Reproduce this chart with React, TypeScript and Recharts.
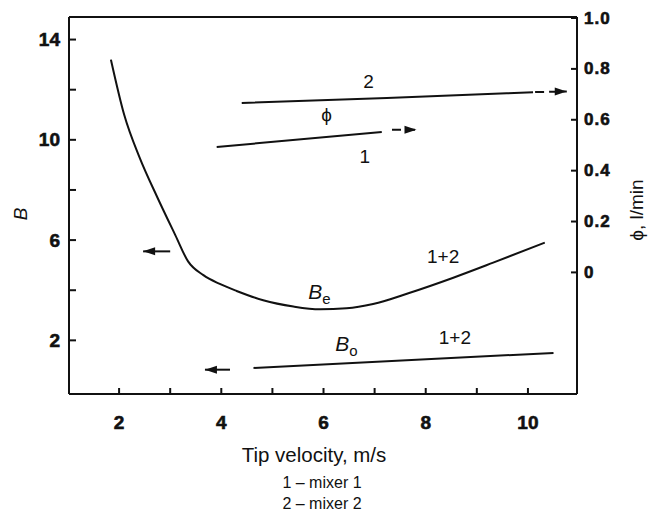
import React from 'react';
import { ComposedChart, Line, XAxis, YAxis, ReferenceDot, Customized } from 'recharts';

// ---- tick values ----
const xTicks = [2, 3, 4, 5, 6, 7, 8, 9, 10];
const xLabelled = [2, 4, 6, 8, 10];
const bTicks = [2, 4, 6, 8, 10, 12, 14];
const bLabelled = [2, 6, 10, 14];
const phiTicks = [0, 0.2, 0.4, 0.6, 0.8, 1.0];
const phiLabels = ['0', '0.2', '0.4', '0.6', '0.8', '1.0'];

// ---- series: B_e (mixers 1+2) ----
const beVelocity = [1.84, 2.1, 2.4, 2.75, 3.1, 3.35, 3.65, 3.97, 4.3, 4.82, 5.41, 5.93, 6.45, 6.97, 7.69, 8.54, 9.32, 10.33];
const beValues = [13.2, 11.0, 9.3, 7.7, 6.2, 5.15, 4.6, 4.25, 3.97, 3.6, 3.35, 3.24, 3.28, 3.45, 3.9, 4.5, 5.1, 5.9];

// ---- series: B_o (mixers 1+2) ----
const boVelocity = [4.63, 10.5];
const boValues = [0.9, 1.5];

// ---- series: phi, mixer 1 and mixer 2 ----
const phi1Velocity = [3.91, 7.14];
const phi1Values = [0.493, 0.552];
const phi2Velocity = [4.4, 7.24, 10.1];
const phi2Values = [0.666, 0.686, 0.708];

// ---- axis-pointer arrows (tail -> tip) ----
const phi1ArrowVelocity = [7.34, 7.82];
const phi1ArrowValues = [0.561, 0.561];
const phi2ArrowVelocity = [10.14, 10.76];
const phi2ArrowValues = [0.709, 0.711];
const beArrowVelocity = [3.0, 2.47];
const beArrowValues = [5.55, 5.55];
const boArrowVelocity = [4.17, 3.68];
const boArrowValues = [0.83, 0.83];

// ---- curve annotations (data units) ----
const phiNotes = [
  { v: 6.88, y: 0.751, text: '2' },
  { v: 6.06, y: 0.62, text: 'ϕ' },
  { v: 6.81, y: 0.456, text: '1' },
];
const bNotes = [
  { v: 8.34, y: 5.35, text: '1+2' },
  { v: 8.57, y: 2.1, text: '1+2' },
];
const bSymbolNotes = [
  { v: 5.92, y: 3.95, main: 'B', sub: 'e' },
  { v: 6.45, y: 1.9, main: 'B', sub: 'o' },
];

const zip = (xs: number[], ys: number[]) => xs.map((v, i) => ({ v, y: ys[i] }));

const INK = '#111';
const FONT = '"Liberation Sans", Arial, Helvetica, sans-serif';

const LeftTick = (props: any) => {
  const { x, y, payload } = props;
  const show = bLabelled.includes(payload.value);
  return (
    <g>
      <line x1={x} x2={x + 7} y1={y} y2={y} stroke={INK} strokeWidth={2} />
      {show && (
        <text x={x - 9} y={y} textAnchor="end" dominantBaseline="central" fontFamily={FONT} fontWeight="bold"
          fontSize={19} fill={INK} stroke={INK} strokeWidth={0.6}>
          {payload.value}
        </text>
      )}
    </g>
  );
};

const RightTick = (props: any) => {
  const { x, y, payload, index } = props;
  return (
    <g>
      <line x1={x} x2={x - 6} y1={y} y2={y} stroke={INK} strokeWidth={2} />
      <text x={x + 7} y={y} textAnchor="start" dominantBaseline="central" fontFamily={FONT} fontWeight="bold"
        fontSize={17} letterSpacing={1} fill={INK} stroke={INK} strokeWidth={0.6}>
        {phiLabels[index] ?? payload.value}
      </text>
    </g>
  );
};

const BottomTick = (props: any) => {
  const { x, y, payload } = props;
  const show = xLabelled.includes(payload.value);
  return (
    <g>
      <line x1={x} x2={x} y1={y} y2={y - 6} stroke={INK} strokeWidth={2} />
      {show && (
        <text x={x} y={y + 28} textAnchor="middle" dominantBaseline="central" fontFamily={FONT} fontWeight="bold"
          fontSize={19} fill={INK} stroke={INK} strokeWidth={0.6}>
          {payload.value}
        </text>
      )}
    </g>
  );
};

const arrowDot = (dir: number, count: number) => (props: any) => {
  const { cx, cy, index } = props;
  if (index !== count - 1 || cx == null) return <g key={`a${index}`} />;
  const len = 12;
  const half = 4;
  return (
    <polygon
      key={`a${index}`}
      points={`${cx},${cy} ${cx - dir * len},${cy - half} ${cx - dir * len},${cy + half}`}
      fill={INK}
      stroke="none"
    />
  );
};

const noteShape = (text: string) => (p: any) => (
  <text x={p.cx} y={p.cy} textAnchor="middle" dominantBaseline="central" fontFamily={FONT} fontSize={19} fill={INK}>
    {text}
  </text>
);

const symbolShape = (main: string, sub: string) => (p: any) => (
  <text x={p.cx} y={p.cy} textAnchor="middle" dominantBaseline="central" fontFamily={FONT} fill={INK}>
    <tspan fontSize={21} fontStyle="italic">{main}</tspan>
    <tspan fontSize={15} dy={7}>{sub}</tspan>
  </text>
);

const Titles = () => (
  <g fontFamily={FONT} fill={INK}>
    <text x={20} y={214} fontSize={19} fontStyle="italic" textAnchor="middle" dominantBaseline="central" transform="rotate(-90 20 214)">
      B
    </text>
    <text x={636} y={210} fontSize={19} textAnchor="middle" dominantBaseline="central" transform="rotate(-90 636 210)">
      ϕ, l/min
    </text>
    <text x={314} y={454} fontSize={20.5} textAnchor="middle" dominantBaseline="central">
      Tip velocity, m/s
    </text>
    <text x={322} y={482} fontSize={16} textAnchor="middle" dominantBaseline="central">
      1 – mixer 1
    </text>
    <text x={322} y={503} fontSize={16} textAnchor="middle" dominantBaseline="central">
      2 – mixer 2
    </text>
  </g>
);

const X_DOMAIN: [number, number] = [1.02, 10.96];
const B_DOMAIN: [number, number] = [-0.14, 14.9];
const PHI_DOMAIN: [number, number] = [-0.478, 1.004];

export default function App() {
  const lineProps = { type: 'monotone' as const, stroke: INK, strokeWidth: 2, dot: false, isAnimationActive: false, dataKey: 'y' };
  return (
    <div style={{ position: 'absolute', left: 0, top: 0, background: '#fff' }}>
      <ComposedChart width={658} height={511} margin={{ top: 16, right: 21, bottom: 87, left: 9 }}>
        <XAxis
          xAxisId="main"
          type="number"
          dataKey="v"
          domain={X_DOMAIN}
          allowDataOverflow
          ticks={xTicks}
          interval={0}
          tickSize={0}
          tickMargin={0}
          tickLine={false}
          tick={<BottomTick />}
          axisLine={{ stroke: INK, strokeWidth: 2 }}
          height={30}
        />
        <XAxis
          xAxisId="top"
          orientation="top"
          type="number"
          dataKey="v"
          domain={X_DOMAIN}
          allowDataOverflow
          tick={false}
          tickLine={false}
          axisLine={{ stroke: INK, strokeWidth: 2 }}
          height={1}
        />
        <YAxis
          yAxisId="B"
          type="number"
          domain={B_DOMAIN}
          allowDataOverflow
          ticks={bTicks}
          interval={0}
          tickSize={0}
          tickMargin={0}
          tickLine={false}
          tick={<LeftTick />}
          axisLine={{ stroke: INK, strokeWidth: 2 }}
          width={60}
        />
        <YAxis
          yAxisId="phi"
          orientation="right"
          type="number"
          domain={PHI_DOMAIN}
          allowDataOverflow
          ticks={phiTicks}
          interval={0}
          tickSize={0}
          tickMargin={0}
          tickLine={false}
          tick={<RightTick />}
          axisLine={{ stroke: INK, strokeWidth: 2 }}
          width={60}
        />

        <Line {...lineProps} xAxisId="main" yAxisId="B" data={zip(beVelocity, beValues)} />
        <Line {...lineProps} type="linear" xAxisId="main" yAxisId="B" data={zip(boVelocity, boValues)} />
        <Line {...lineProps} type="linear" xAxisId="main" yAxisId="phi" data={zip(phi1Velocity, phi1Values)} />
        <Line {...lineProps} xAxisId="main" yAxisId="phi" data={zip(phi2Velocity, phi2Values)} />

        <Line {...lineProps} type="linear" strokeDasharray="9 5" xAxisId="main" yAxisId="phi"
          data={zip(phi1ArrowVelocity, phi1ArrowValues)} dot={arrowDot(1, 2)} />
        <Line {...lineProps} type="linear" strokeDasharray="9 5" xAxisId="main" yAxisId="phi"
          data={zip(phi2ArrowVelocity, phi2ArrowValues)} dot={arrowDot(1, 2)} />
        <Line {...lineProps} type="linear" xAxisId="main" yAxisId="B"
          data={zip(beArrowVelocity, beArrowValues)} dot={arrowDot(-1, 2)} />
        <Line {...lineProps} type="linear" xAxisId="main" yAxisId="B"
          data={zip(boArrowVelocity, boArrowValues)} dot={arrowDot(-1, 2)} />

        {phiNotes.map((n, i) => (
          <ReferenceDot key={`pn${i}`} xAxisId="main" yAxisId="phi" x={n.v} y={n.y} r={0} shape={noteShape(n.text)} />
        ))}
        {bNotes.map((n, i) => (
          <ReferenceDot key={`bn${i}`} xAxisId="main" yAxisId="B" x={n.v} y={n.y} r={0} shape={noteShape(n.text)} />
        ))}
        {bSymbolNotes.map((n, i) => (
          <ReferenceDot key={`bs${i}`} xAxisId="main" yAxisId="B" x={n.v} y={n.y} r={0} shape={symbolShape(n.main, n.sub)} />
        ))}

        <Customized component={<Titles />} />
      </ComposedChart>
    </div>
  );
}
